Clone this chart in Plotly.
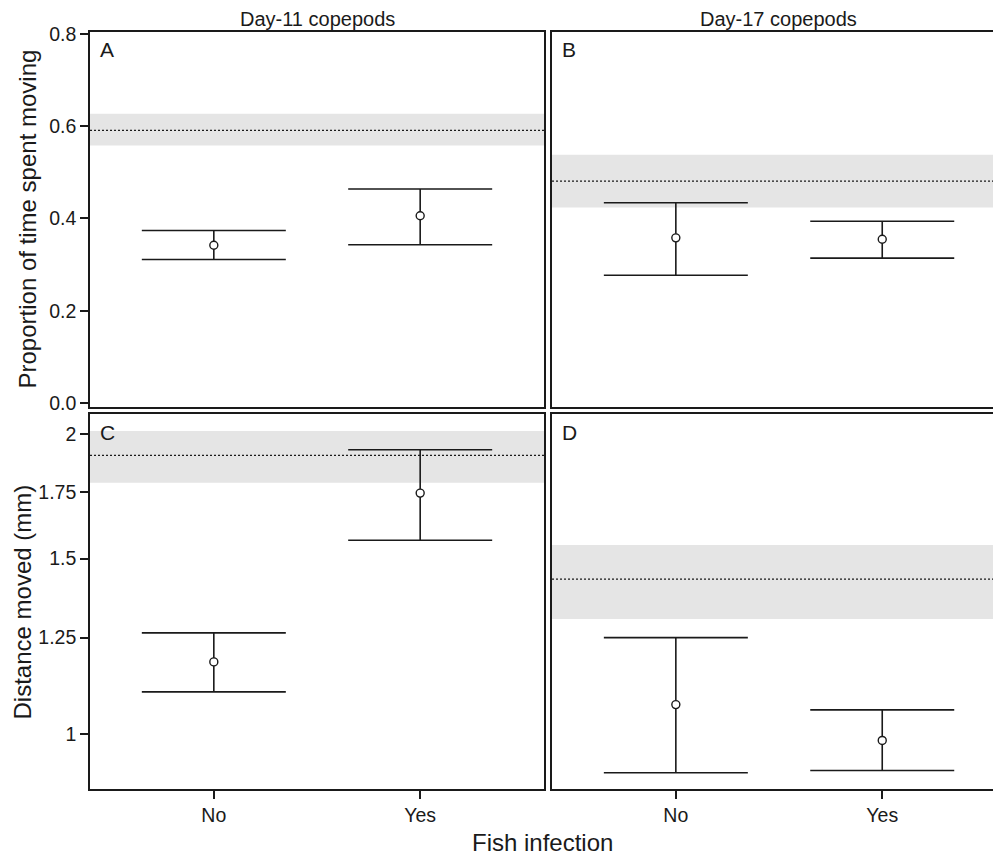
import plotly.graph_objects as go

# ---------------- data ----------------
infection = ["No", "Yes"]

# Proportion of time spent moving
prop_d11_mean = [0.342, 0.406]
prop_d11_lo = [0.311, 0.343]
prop_d11_hi = [0.374, 0.464]
prop_d11_ref = 0.591
prop_d11_ref_lo = 0.558
prop_d11_ref_hi = 0.627

prop_d17_mean = [0.358, 0.355]
prop_d17_lo = [0.277, 0.314]
prop_d17_hi = [0.434, 0.394]
prop_d17_ref = 0.481
prop_d17_ref_lo = 0.424
prop_d17_ref_hi = 0.538

# Distance moved (mm)
dist_d11_mean = [1.182, 1.745]
dist_d11_lo = [1.103, 1.565]
dist_d11_hi = [1.264, 1.929]
dist_d11_ref = 1.904
dist_d11_ref_lo = 1.787
dist_d11_ref_hi = 2.014

dist_d17_mean = [1.071, 0.986]
dist_d17_lo = [0.915, 0.920]
dist_d17_hi = [1.250, 1.058]
dist_d17_ref = 1.431
dist_d17_ref_lo = 1.305
dist_d17_ref_hi = 1.548

prop_ticks = [0.0, 0.2, 0.4, 0.6, 0.8]
prop_ticktext = ["0.0", "0.2", "0.4", "0.6", "0.8"]
dist_ticks = [1, 1.25, 1.5, 1.75, 2]
dist_ticktext = ["1", "1.25", "1.5", "1.75", "2"]

col_titles = ["Day-11 copepods", "Day-17 copepods"]
panel_letters = ["A", "B", "C", "D"]
x_title = "Fish infection"
y_titles = ["Proportion of time spent moving", "Distance moved (mm)"]

# ---------------- style ----------------
W, H = 993, 855
FONT = "Liberation Sans, Arial, Helvetica, sans-serif"
INK = "#1a1a1a"
BAND = "rgb(229,229,229)"

def px_x(p):
    return p / W

def px_y(p):
    return 1 - p / H

dom_x = [[px_x(90), px_x(544)], [px_x(552), 1.0]]
dom_y = [[px_y(407), px_y(32)], [px_y(789), px_y(414)]]

panels = [
    (prop_d11_mean, prop_d11_lo, prop_d11_hi, prop_d11_ref, prop_d11_ref_lo, prop_d11_ref_hi),
    (prop_d17_mean, prop_d17_lo, prop_d17_hi, prop_d17_ref, prop_d17_ref_lo, prop_d17_ref_hi),
    (dist_d11_mean, dist_d11_lo, dist_d11_hi, dist_d11_ref, dist_d11_ref_lo, dist_d11_ref_hi),
    (dist_d17_mean, dist_d17_lo, dist_d17_hi, dist_d17_ref, dist_d17_ref_lo, dist_d17_ref_hi),
]

fig = go.Figure()
shapes = []
annotations = []

for i, (mean, lo, hi, ref, rlo, rhi) in enumerate(panels):
    k = i + 1
    xa = "x" if k == 1 else f"x{k}"
    ya = "y" if k == 1 else f"y{k}"
    # reference band and line
    shapes.append(dict(type="rect", xref=f"{xa} domain", yref=ya, x0=0, x1=1,
                       y0=rlo, y1=rhi, fillcolor=BAND, line=dict(width=0), layer="below"))
    shapes.append(dict(type="line", xref=f"{xa} domain", yref=ya, x0=0, x1=1,
                       y0=ref, y1=ref, line=dict(color=INK, width=1.2, dash="2px,2px"),
                       layer="below"))
    fig.add_trace(go.Scatter(
        x=infection, y=mean, xaxis=xa, yaxis=ya, mode="markers",
        marker=dict(symbol="circle", size=8, color="white", line=dict(color=INK, width=1.4)),
        error_y=dict(type="data", symmetric=False,
                     array=[h - m for h, m in zip(hi, mean)],
                     arrayminus=[m - l for m, l in zip(mean, lo)],
                     color=INK, thickness=1.6, width=72),
        showlegend=False, hoverinfo="skip"))

axis_line = dict(showline=True, linecolor=INK, linewidth=1.6, showgrid=False, zeroline=False)
tickfont = dict(family=FONT, size=19.5, color=INK)

layout = dict(
    width=W, height=H, paper_bgcolor="white", plot_bgcolor="white",
    margin=dict(l=0, r=0, t=0, b=0, autoexpand=False),
    showlegend=False,
)

cat_range_left = [-0.6, 1.6]
cat_range_right = [-0.6, -0.6 + (993 - 552) / 206.4]
prop_range = [-0.0087, 0.8043]
dist_range = [-0.0548, 0.3211]  # log10 units

for k in range(1, 5):
    col = (k - 1) % 2
    row = (k - 1) // 2
    xk = "xaxis" if k == 1 else f"xaxis{k}"
    yk = "yaxis" if k == 1 else f"yaxis{k}"
    ya = "y" if k == 1 else f"y{k}"
    xa = "x" if k == 1 else f"x{k}"
    xax = dict(axis_line, domain=dom_x[col], anchor=ya, type="category",
               categoryorder="array", categoryarray=infection,
               range=cat_range_left if col == 0 else cat_range_right,
               mirror=True, tickfont=tickfont, fixedrange=True)
    if row == 0:
        xax.update(showticklabels=False, ticks="")
    else:
        xax.update(ticks="outside", ticklen=8, tickwidth=1.6, tickcolor=INK)
    yax = dict(axis_line, domain=dom_y[row], anchor=xa, tickfont=tickfont,
               mirror=(col == 0), fixedrange=True)
    if row == 0:
        yax.update(range=prop_range, tickvals=prop_ticks, ticktext=prop_ticktext)
    else:
        yax.update(type="log", range=dist_range, tickvals=dist_ticks, ticktext=dist_ticktext)
    if col == 0:
        yax.update(ticks="outside", ticklen=8, tickwidth=1.6, tickcolor=INK)
    else:
        yax.update(ticks="", showticklabels=False)
    layout[xk] = xax
    layout[yk] = yax

# column titles
for col, t in enumerate(col_titles):
    cx = (90 + 544) / 2 if col == 0 else (552 + 1005) / 2
    annotations.append(dict(text=t, x=px_x(cx), y=px_y(19.5), xref="paper", yref="paper",
                            xanchor="center", yanchor="middle", showarrow=False,
                            font=dict(family=FONT, size=20, color=INK)))

# panel letters
letter_pos = [(98, 49.5), (560, 49.5), (98, 432), (560, 432)]
for (lx, ly), L in zip(letter_pos, panel_letters):
    annotations.append(dict(text=L, x=px_x(lx), y=px_y(ly), xref="paper", yref="paper",
                            xanchor="left", yanchor="middle", showarrow=False,
                            font=dict(family=FONT, size=21, color=INK)))

# axis titles
annotations.append(dict(text=x_title, x=px_x(542), y=px_y(842), xref="paper", yref="paper",
                        xanchor="center", yanchor="middle", showarrow=False,
                        font=dict(family=FONT, size=24, color=INK)))
annotations.append(dict(text=y_titles[0], x=px_x(27), y=px_y(219.5), xref="paper", yref="paper",
                        xanchor="center", yanchor="middle", showarrow=False, textangle=-90,
                        font=dict(family=FONT, size=24, color=INK)))
annotations.append(dict(text=y_titles[1], x=px_x(21.5), y=px_y(602), xref="paper", yref="paper",
                        xanchor="center", yanchor="middle", showarrow=False, textangle=-90,
                        font=dict(family=FONT, size=24, color=INK)))

layout["shapes"] = shapes
layout["annotations"] = annotations
fig.update_layout(**layout)

fig.write_html("out.html", config={"displayModeBar": False})
